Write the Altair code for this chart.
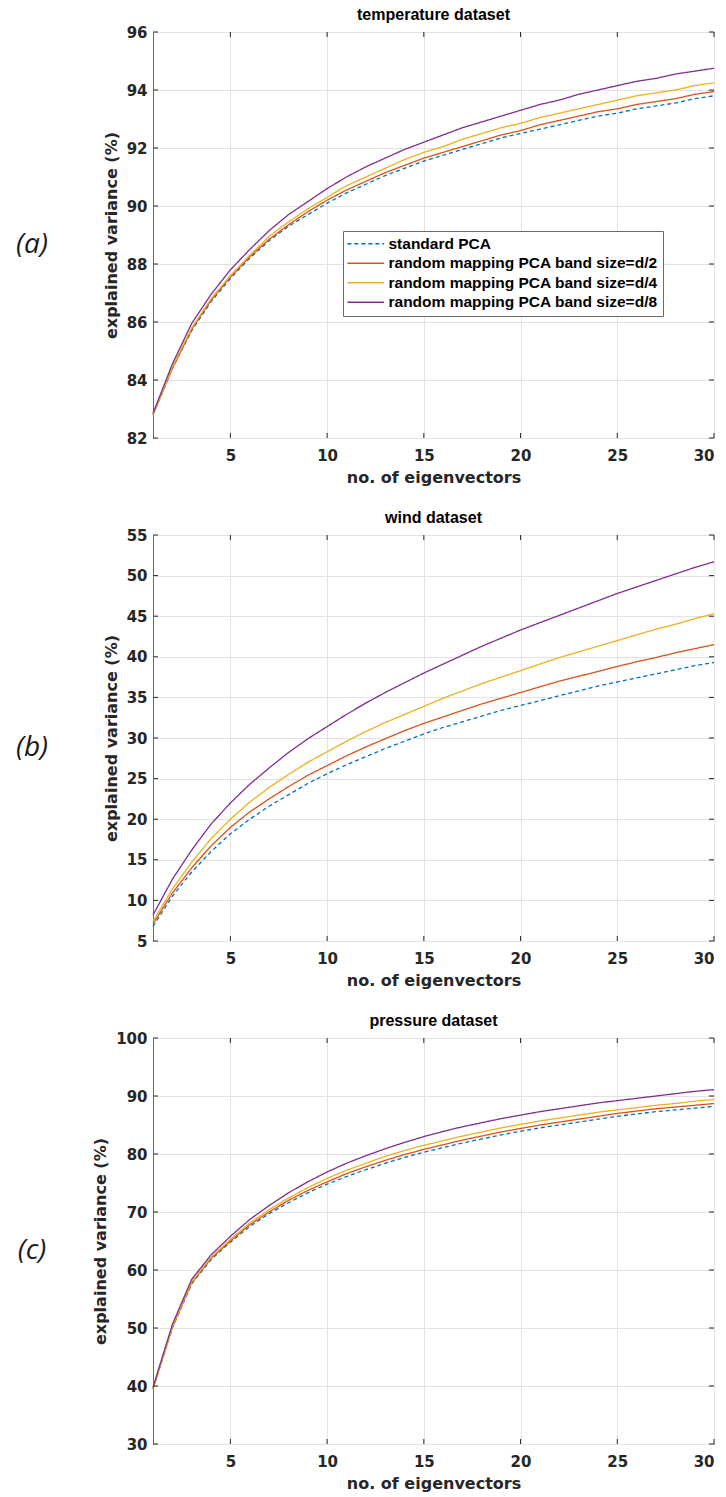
import altair as alt
import pandas as pd

k = list(range(1, 31))
series_names = [
    "standard PCA",
    "random mapping PCA band size=d/2",
    "random mapping PCA band size=d/4",
    "random mapping PCA band size=d/8",
]
colors = ["#0072BD", "#D95319", "#EDB120", "#7E2F8E"]
dashes = [[4, 3], [1, 0], [1, 0], [1, 0]]

# ---- temperature dataset ----
temp_std = [82.8, 84.4, 85.7, 86.7, 87.5, 88.2, 88.8, 89.3, 89.7, 90.1,
            90.45, 90.75, 91.05, 91.3, 91.55, 91.75, 91.95, 92.15, 92.35, 92.5,
            92.65, 92.8, 92.95, 93.1, 93.2, 93.35, 93.45, 93.55, 93.7, 93.8]
temp_d2 = [82.8, 84.4, 85.75, 86.75, 87.55, 88.25, 88.85, 89.35, 89.8, 90.2,
           90.55, 90.85, 91.15, 91.4, 91.65, 91.85, 92.05, 92.25, 92.45, 92.6,
           92.8, 92.95, 93.1, 93.25, 93.35, 93.5, 93.6, 93.7, 93.85, 93.95]
temp_d4 = [82.8, 84.45, 85.8, 86.8, 87.6, 88.3, 88.95, 89.45, 89.9, 90.3,
           90.7, 91.0, 91.3, 91.6, 91.85, 92.05, 92.3, 92.5, 92.7, 92.85,
           93.05, 93.2, 93.35, 93.5, 93.65, 93.8, 93.9, 94.0, 94.15, 94.25]
temp_d8 = [82.85, 84.55, 85.95, 86.95, 87.8, 88.5, 89.15, 89.7, 90.15, 90.6,
           91.0, 91.35, 91.65, 91.95, 92.2, 92.45, 92.7, 92.9, 93.1, 93.3,
           93.5, 93.65, 93.85, 94.0, 94.15, 94.3, 94.4, 94.55, 94.65, 94.75]

# ---- wind dataset ----
wind_std = [6.8, 10.5, 13.5, 16.0, 18.2, 20.0, 21.6, 23.0, 24.4, 25.6,
            26.7, 27.7, 28.7, 29.6, 30.5, 31.3, 32.0, 32.7, 33.4, 34.0,
            34.6, 35.2, 35.8, 36.4, 36.9, 37.4, 37.9, 38.4, 38.9, 39.3]
wind_d2 = [7.1, 10.9, 14.0, 16.7, 19.0, 20.9, 22.5, 24.0, 25.4, 26.6,
           27.8, 28.9, 29.9, 30.9, 31.8, 32.6, 33.4, 34.2, 34.9, 35.6,
           36.3, 37.0, 37.6, 38.2, 38.8, 39.4, 39.9, 40.5, 41.0, 41.5]
wind_d4 = [7.4, 11.4, 14.7, 17.6, 20.0, 22.1, 23.9, 25.5, 27.0, 28.3,
           29.6, 30.8, 31.9, 32.9, 33.9, 34.9, 35.8, 36.7, 37.5, 38.3,
           39.1, 39.9, 40.6, 41.3, 42.0, 42.7, 43.4, 44.0, 44.7, 45.3]
wind_d8 = [8.2, 12.6, 16.2, 19.4, 22.0, 24.3, 26.3, 28.2, 29.9, 31.4,
           32.9, 34.3, 35.6, 36.8, 38.0, 39.1, 40.2, 41.3, 42.3, 43.3,
           44.2, 45.1, 46.0, 46.9, 47.8, 48.6, 49.4, 50.2, 51.0, 51.7]

# ---- pressure dataset ----
pres_std = [39.5, 50.0, 57.6, 61.8, 64.8, 67.5, 69.7, 71.6, 73.3, 74.8,
            76.1, 77.3, 78.4, 79.4, 80.3, 81.1, 81.9, 82.6, 83.3, 83.9,
            84.5, 85.0, 85.5, 86.0, 86.5, 86.9, 87.3, 87.6, 87.9, 88.2]
pres_d2 = [39.5, 50.1, 57.8, 62.0, 65.0, 67.8, 70.0, 72.0, 73.7, 75.2,
           76.6, 77.8, 78.9, 79.9, 80.8, 81.6, 82.4, 83.1, 83.8, 84.4,
           85.0, 85.5, 86.0, 86.5, 87.0, 87.4, 87.8, 88.1, 88.4, 88.7]
pres_d4 = [39.6, 50.2, 58.0, 62.2, 65.3, 68.1, 70.4, 72.4, 74.2, 75.8,
           77.2, 78.4, 79.6, 80.6, 81.5, 82.3, 83.1, 83.8, 84.5, 85.1,
           85.7, 86.2, 86.7, 87.2, 87.6, 88.0, 88.4, 88.7, 89.1, 89.4]
pres_d8 = [39.8, 50.6, 58.4, 62.6, 65.8, 68.7, 71.1, 73.3, 75.2, 76.9,
           78.4, 79.7, 80.9, 82.0, 83.0, 83.9, 84.7, 85.4, 86.1, 86.7,
           87.3, 87.8, 88.3, 88.8, 89.2, 89.6, 90.0, 90.4, 90.8, 91.1]

x_ticks = [5, 10, 15, 20, 25, 30]
temp_yticks = [82, 84, 86, 88, 90, 92, 94, 96]
wind_yticks = [5, 10, 15, 20, 25, 30, 35, 40, 45, 50, 55]
pres_yticks = [30, 40, 50, 60, 70, 80, 90, 100]

W = 561
H = 406
TICK = 5
FONT = "Liberation Sans"
AXFONT = "DejaVu Sans"
AXC = "#262626"


def long_df(series_lists):
    rows = []
    for name, vals in zip(series_names, series_lists):
        for kk, v in zip(k, vals):
            rows.append({"k": kk, "value": v, "series": name})
    return pd.DataFrame(rows)


def panel(title, label, series_lists, ydomain, yticks, show_legend):
    df = long_df(series_lists)
    xscale = alt.Scale(domain=[1, 30], nice=False, zero=False)
    yscale = alt.Scale(domain=ydomain, nice=False, zero=False)
    xaxis = alt.Axis(values=x_ticks, title="no. of eigenvectors",
                     labelPadding=10, titlePadding=6)
    yaxis = alt.Axis(values=yticks, title="explained variance (%)",
                     labelPadding=6, titlePadding=7)
    if show_legend:
        leg = alt.Legend(
            title=None, orient="none", legendX=190, legendY=199,
            symbolType="M-3,0H3", symbolSize=150, symbolStrokeWidth=1.5,
            labelFont=FONT, labelFontSize=15.5, labelFontWeight="bold",
            labelColor="#000000", strokeColor="#6b6b6b", fillColor="#ffffff",
            padding=5, rowPadding=2.5, labelLimit=400, labelOffset=15,
            symbolOffset=10,
        )
    else:
        leg = None
    lines = alt.Chart(df).mark_line(strokeWidth=1.3).encode(
        x=alt.X("k:Q", scale=xscale, axis=xaxis),
        y=alt.Y("value:Q", scale=yscale, axis=yaxis),
        color=alt.Color("series:N", scale=alt.Scale(domain=series_names, range=colors), legend=leg),
        strokeDash=alt.StrokeDash("series:N", scale=alt.Scale(domain=series_names, range=dashes), legend=leg),
        order=alt.Order("series:N"),
    )
    xt = pd.DataFrame({"v": x_ticks})
    yt = pd.DataFrame({"v": yticks})
    xb = alt.Chart(xt).mark_rule(color=AXC, strokeWidth=1).encode(
        x=alt.X("v:Q", scale=xscale, axis=xaxis), y=alt.value(H), y2=alt.value(H - TICK))
    xtp = alt.Chart(xt).mark_rule(color=AXC, strokeWidth=1).encode(
        x=alt.X("v:Q", scale=xscale, axis=xaxis), y=alt.value(0), y2=alt.value(TICK))
    yl = alt.Chart(yt).mark_rule(color=AXC, strokeWidth=1).encode(
        y=alt.Y("v:Q", scale=yscale, axis=yaxis), x=alt.value(0), x2=alt.value(TICK))
    yr = alt.Chart(yt).mark_rule(color=AXC, strokeWidth=1).encode(
        y=alt.Y("v:Q", scale=yscale, axis=yaxis), x=alt.value(W - TICK), x2=alt.value(W))
    lab = alt.Chart(pd.DataFrame({"t": [label]})).mark_text(
        font="Open Sans", fontSize=28, fontStyle="italic", color="#1a1a1a",
        align="center", baseline="middle",
    ).encode(text="t:N", x=alt.value(-121), y=alt.value(H * 0.525))
    return alt.layer(lines, xb, xtp, yl, yr, lab).properties(
        width=W, height=H,
        title=alt.Title(title, font=FONT, fontSize=16, fontWeight="bold",
                        color="#000000", offset=2, anchor="middle"),
    ).resolve_scale(color="independent", strokeDash="independent")


pa = panel("temperature dataset", "(a)", [temp_std, temp_d2, temp_d4, temp_d8], [82, 96], temp_yticks, True)
pb = panel("wind dataset", "(b)", [wind_std, wind_d2, wind_d4, wind_d8], [5, 55], wind_yticks, False)
pc = panel("pressure dataset", "(c)", [pres_std, pres_d2, pres_d4, pres_d8], [30, 100], pres_yticks, False)

chart = alt.vconcat(pa, pb, pc, spacing=23).resolve_scale(
    color="independent", strokeDash="independent"
).properties(
    padding={"left": 15, "top": 6, "right": 5, "bottom": 0},
    background="#ffffff",
).configure_axis(
    labelFont=AXFONT, labelFontSize=15, labelFontWeight="bold", labelColor=AXC,
    titleFont=AXFONT, titleFontSize=16, titleFontWeight="bold", titleColor=AXC,
    gridColor="#e3e3e3", gridWidth=1, domain=False, ticks=False,
).configure_view(stroke="#6b6b6b", strokeWidth=1)

chart.save("out.html", embed_options={"renderer": "svg", "actions": False})
